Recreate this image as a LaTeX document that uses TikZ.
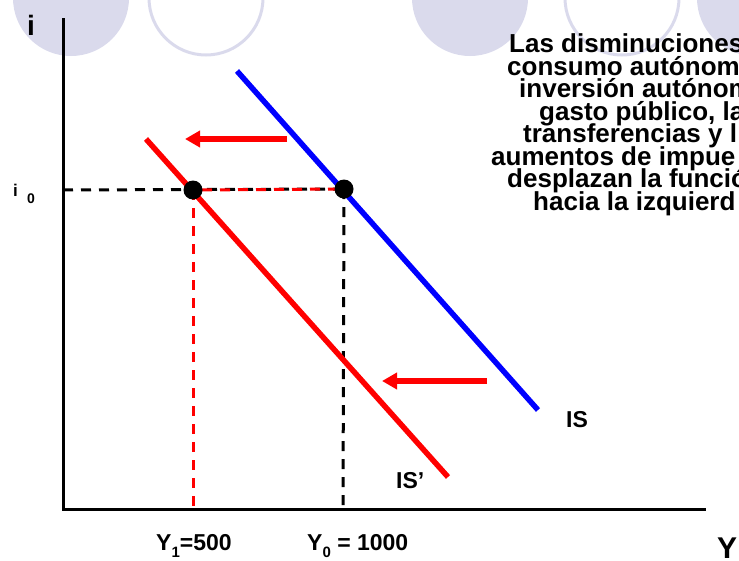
\documentclass[tikz,border=0pt]{standalone}
\usepackage{fontspec}
\setmainfont{Liberation Sans}
\usepackage{tikz}
\usetikzlibrary{arrows.meta}

\definecolor{deco}{RGB}{218,218,236}

\begin{document}
\begin{tikzpicture}[x=1pt, y=-1pt, font=\bfseries,
    guide/.style={line width=3pt, dash pattern=on 10pt off 8pt},
    curve/.style={line width=5.5pt},
    move/.style={draw=red, line width=6pt, -{Triangle[length=15pt, width=16pt, red]}},
    lbl/.style={anchor=base west, inner sep=0pt}]
\useasboundingbox (0,0) rectangle (739,560);
\clip (0,0) rectangle (739,560);

% background circles
\fill[deco] (71,-2) circle (58pt);
\draw[deco, line width=3pt] (206,-2) circle (57pt);
\fill[deco] (470,-2) circle (58pt);
\draw[deco, line width=3pt] (622,-2) circle (57pt);
\fill[deco] (755,-2) circle (58pt);

% axes
\coordinate (top) at (63,18);
\coordinate (O) at (63,509);
\coordinate (right) at (706,509);
\draw[line width=3pt] (top) -- (O) -- (right);

\coordinate (e0) at (344,189);
\coordinate (e1) at (193,190);
\coordinate (i0) at (63,190);
\coordinate (y1) at (193,509);
\coordinate (y0) at (343,509);

% guides
\draw[guide] (i0) -- (e0);
\draw[guide, red, dash phase=9pt] (e1) -- (e0);
\draw[guide, red] (e1) -- (y1);
\draw[guide] (e0) -- (y0);

% IS and IS'
\coordinate (IS a) at (237,71);
\coordinate (IS b) at (538,410);
\coordinate (ISp a) at (146,139);
\coordinate (ISp b) at (448,477);
\draw[curve, blue] (IS a) -- (IS b);
\draw[curve, red] (ISp a) -- (ISp b);

% shift arrows
\coordinate (up a) at (287,139);
\coordinate (up b) at (185,139);
\coordinate (low a) at (487,381);
\coordinate (low b) at (382,381);
\path (up a) edge[move] (up b);
\path (low a) edge[move] (low b);

% equilibria
\begin{scope}[every node/.style={circle, fill=black, inner sep=0pt, minimum size=19pt}]
  \node (E0) at (e0) {};
  \node (E1) at (e1) {};
\end{scope}

% labels
\begin{scope}[every node/.style={lbl}]
  \node (i) at (27,35) {\fontsize{28}{28}\selectfont i};
  \node (i0 lbl) at (13,196) {\fontsize{17}{17}\selectfont i};
  \node (i0 sub) at (27,203) {\fontsize{14}{14}\selectfont 0};
  \node (IS) at (566,427) {\fontsize{23}{23}\selectfont IS};
  \node (ISp) at (396,488) {\fontsize{23}{23}\selectfont IS’};
  \node (Y1) at (156,550) {\fontsize{23}{23}\selectfont Y\raisebox{-7pt}{\fontsize{15}{15}\selectfont 1}=500};
  \node (Y0) at (307,550) {\fontsize{23}{23}\selectfont Y\raisebox{-7pt}{\fontsize{15}{15}\selectfont 0} = 1000};
  \node (Y) at (717,558.5) {\fontsize{30}{30}\selectfont Y};
\end{scope}

% text
\begin{scope}[every node/.style={lbl, font=\bfseries\fontsize{26}{26}\selectfont}]
  \node (t1) at (509,52.5) {Las disminuciones};
  \node (t2) at (507,75) {consumo autónom};
  \node (t3) at (519,97.5) {inversión autónom};
  \node (t4) at (539,120) {gasto público, la};
  \node (t5) at (523,142.5) {transferencias y l};
  \node (t6) at (491,165) {aumentos de impue};
  \node (t7) at (507,187.5) {desplazan la funció};
  \node (t8) at (533,210) {hacia la izquierd};
\end{scope}
\end{tikzpicture}
\end{document}
